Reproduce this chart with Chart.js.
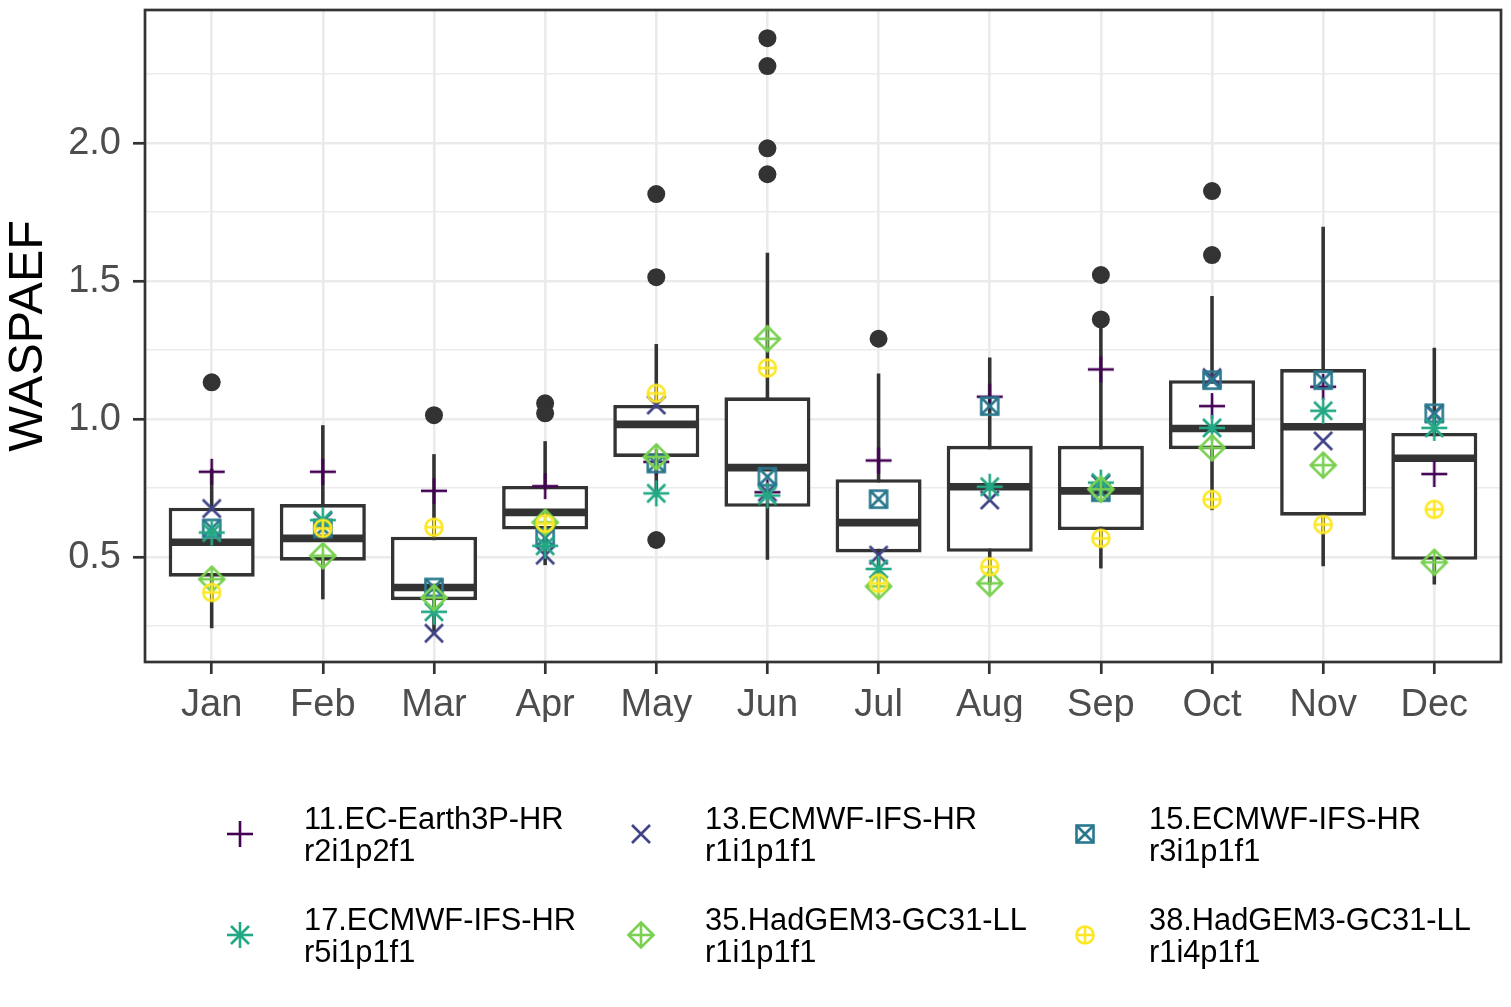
<!DOCTYPE html>
<html>
<head>
<meta charset="utf-8">
<script src="https://cdn.jsdelivr.net/npm/chart.js@4.4.1/dist/chart.umd.min.js"></script>
<style>
    body { margin: 0; background: #fff; overflow: hidden; }
    #wrap { position: relative; width: 1511px; height: 1007px; }
    .leg-item { position: absolute; font-family: 'Liberation Sans', Arial, sans-serif; font-size: 30.8px; line-height: 31.5px; color: #000; white-space: nowrap; }
    .leg-marker { position: absolute; }
</style>
</head>
<body>
<div id="wrap">
    <canvas id="chart" width="1511" height="1007"></canvas>
</div>
<script>
const months = ['Jan', 'Feb', 'Mar', 'Apr', 'May', 'Jun', 'Jul', 'Aug', 'Sep', 'Oct', 'Nov', 'Dec'];

// boxplot stats per month
const whiskerLow  = [0.242, 0.347, 0.224, 0.471, 0.72, 0.490, 0.39, 0.40, 0.459, 0.670, 0.467, 0.401];
const boxQ1       = [0.429, 0.487, 0.344, 0.600, 0.863, 0.682, 0.517, 0.519, 0.598, 0.891, 0.650, 0.490];
const boxMedian   = [0.554, 0.568, 0.390, 0.662, 0.981, 0.824, 0.625, 0.755, 0.740, 0.966, 0.972, 0.858];
const boxQ3       = [0.679, 0.692, 0.574, 0.758, 1.051, 1.079, 0.782, 0.903, 0.903, 1.141, 1.181, 0.950];
const whiskerHigh = [0.82, 0.978, 0.873, 0.920, 1.272, 1.603, 1.165, 1.223, 1.34, 1.446, 1.697, 1.258];

// outliers (month index, value)
const outlierMonth = [0, 2, 3, 3, 4, 4, 4, 5, 5, 5, 5, 6, 8, 8, 9, 9];
const outlierValue = [1.133, 1.014, 1.057, 1.021, 1.815, 1.514, 0.562, 2.380, 2.279, 1.981, 1.887, 1.291, 1.522, 1.361, 1.826, 1.594];

// model members
const modelNames   = ['11.EC-Earth3P-HR', '13.ECMWF-IFS-HR', '15.ECMWF-IFS-HR', '17.ECMWF-IFS-HR', '35.HadGEM3-GC31-LL', '38.HadGEM3-GC31-LL'];
const modelMembers = ['r2i1p2f1', 'r1i1p1f1', 'r3i1p1f1', 'r5i1p1f1', 'r1i1p1f1', 'r1i4p1f1'];
const m11 = [0.809, 0.809, 0.740, 0.757, 0.845, 0.735, 0.850, 1.081, 1.180, 1.047, 1.117, 0.801];
const m13 = [0.676, 0.630, 0.224, 0.507, 1.051, 0.735, 0.507, 0.707, 0.765, 1.150, 0.921, 1.020];
const m15 = [0.604, 0.604, 0.390, 0.570, 0.839, 0.791, 0.710, 1.047, 0.735, 1.141, 1.141, 1.021];
const m17 = [0.589, 0.634, 0.302, 0.541, 0.731, 0.723, 0.457, 0.755, 0.770, 0.968, 1.030, 0.968];
const m35 = [0.420, 0.505, 0.353, 0.626, 0.863, 1.291, 0.394, 0.405, 0.746, 0.896, 0.833, 0.481];
const m38 = [0.372, 0.604, 0.608, 0.622, 1.093, 1.185, 0.405, 0.465, 0.568, 0.709, 0.618, 0.673];

const majorTicks = [0.5, 1.0, 1.5, 2.0];
const minorTicks = [0.25, 0.75, 1.25, 1.75, 2.25];

const modelValues = [m11, m13, m15, m17, m35, m38];
const modelColors = ['#440154', '#414487', '#2A788E', '#22A884', '#7AD151', '#FDE725'];
const modelShapes = ['plus', 'cross', 'boxcross', 'asterisk', 'diamondplus', 'circleplus'];

const FONT = "'Liberation Sans', Arial, sans-serif";

function makeMarker(shape, color) {
    const c = document.createElement('canvas');
    c.width = 32;
    c.height = 32;
    const g = c.getContext('2d');
    g.translate(16, 16);
    g.strokeStyle = color;
    g.lineWidth = 2.6;
    g.lineCap = 'butt';
    const line = (x1, y1, x2, y2) => { g.beginPath(); g.moveTo(x1, y1); g.lineTo(x2, y2); g.stroke(); };
    const plus = (r) => { line(-r, 0, r, 0); line(0, -r, 0, r); };
    const cross = (r) => { line(-r, -r, r, r); line(-r, r, r, -r); };
    if (shape === 'plus') plus(13);
    if (shape === 'cross') cross(9);
    if (shape === 'boxcross') { g.strokeRect(-8.5, -8.5, 17, 17); cross(8.5); }
    if (shape === 'asterisk') { plus(13); cross(9); }
    if (shape === 'diamondplus') {
        g.beginPath();
        g.moveTo(0, -12.5); g.lineTo(12.5, 0); g.lineTo(0, 12.5); g.lineTo(-12.5, 0); g.closePath();
        g.stroke();
        plus(12.5);
    }
    if (shape === 'circleplus') {
        g.beginPath(); g.arc(0, 0, 8.5, 0, Math.PI * 2); g.stroke();
        plus(8.5);
    }
    return c;
}

const panelBorder = {
    id: 'panelBorder',
    afterDatasetsDraw(chart) {
        const a = chart.chartArea;
        const ctx = chart.ctx;
        ctx.save();
        ctx.strokeStyle = '#333333';
        ctx.lineWidth = 2.7;
        ctx.strokeRect(a.left, a.top, a.right - a.left, a.bottom - a.top);
        ctx.restore();
    }
};

const datasets = [
    {
        type: 'bar',
        data: months.map((m, i) => ({ x: i, y: [whiskerLow[i], whiskerHigh[i]] })),
        backgroundColor: '#333333',
        borderWidth: 0,
        grouped: false,
        categoryPercentage: 1,
        barPercentage: 0.032,
        order: 20
    },
    {
        type: 'bar',
        data: months.map((m, i) => ({ x: i, y: [boxQ1[i], boxQ3[i]] })),
        backgroundColor: '#FFFFFF',
        borderColor: '#333333',
        borderWidth: 3.6,
        borderSkipped: false,
        grouped: false,
        categoryPercentage: 1,
        barPercentage: 0.774,
        order: 19
    },
    {
        type: 'scatter',
        data: months.map((m, i) => ({ x: i, y: boxMedian[i] })),
        pointStyle: 'line',
        pointRadius: 41.5,
        pointBorderColor: '#333333',
        pointBorderWidth: 7.6,
        order: 18
    },
    {
        type: 'scatter',
        data: outlierMonth.map((m, i) => ({ x: m, y: outlierValue[i] })),
        pointRadius: 9,
        pointBackgroundColor: '#333333',
        pointBorderWidth: 0,
        order: 17
    }
];

modelValues.forEach((vals, k) => {
    datasets.push({
        type: 'scatter',
        label: modelNames[k],
        data: vals.map((v, i) => ({ x: i, y: v })),
        pointStyle: makeMarker(modelShapes[k], modelColors[k]),
        pointRadius: 14,
        order: 6 - k
    });
});

new Chart(document.getElementById('chart'), {
    type: 'bar',
    data: { datasets: datasets },
    plugins: [panelBorder],
    options: {
        responsive: false,
        animation: false,
        events: [],
        devicePixelRatio: 1,
        layout: { autoPadding: false, padding: { left: 0, top: 10, right: 10, bottom: 285 } },
        plugins: {
            legend: { display: false },
            tooltip: { enabled: false }
        },
        scales: {
            x: {
                type: 'linear',
                min: -0.6,
                max: 11.6,
                offset: false,
                afterFit: (s) => {
                    s.height = 60;
                    s.paddingLeft = 0;
                    s.paddingRight = 0;
                },
                afterBuildTicks: (s) => { s.ticks = months.map((m, i) => ({ value: i })); },
                ticks: {
                    callback: (v) => months[v],
                    color: '#4D4D4D',
                    font: { family: FONT, size: 38 },
                    padding: 9,
                    autoSkip: false,
                    maxRotation: 0
                },
                grid: {
                    offset: false,
                    color: '#EBEBEB',
                    lineWidth: 2.6,
                    tickLength: 12,
                    tickColor: '#333333',
                    tickWidth: 2.7
                },
                border: { display: false }
            },
            y: {
                min: 0.12,
                max: 2.482,
                beginAtZero: false,
                afterFit: (s) => {
                    s.width = 145;
                    s.paddingTop = 0;
                    s.paddingBottom = 0;
                },
                afterBuildTicks: (s) => {
                    s.ticks = majorTicks.concat(minorTicks).sort((a, b) => a - b).map(v => ({ value: v }));
                },
                ticks: {
                    callback: (v) => majorTicks.includes(v) ? v.toFixed(1) : '',
                    color: '#4D4D4D',
                    font: { family: FONT, size: 38 },
                    padding: 12
                },
                grid: {
                    color: '#EBEBEB',
                    lineWidth: (c) => majorTicks.includes(c.tick.value) ? 2.6 : 1.4,
                    tickLength: 12,
                    tickColor: (c) => majorTicks.includes(c.tick.value) ? '#333333' : 'rgba(0,0,0,0)',
                    tickWidth: 2.7
                },
                border: { display: false },
                title: {
                    display: true,
                    text: 'WASPAEF',
                    color: '#000000',
                    font: { family: FONT, size: 48.5 },
                    padding: { top: 0, bottom: 0 }
                }
            }
        }
    }
});

// legend, 3 columns x 2 rows
const legendCols = [[240, 304], [641, 705], [1085, 1149]];
const legendRows = [[834, 803], [935, 904]];
const wrap = document.getElementById('wrap');
modelNames.forEach((name, k) => {
    const col = legendCols[k % 3];
    const row = legendRows[Math.floor(k / 3)];
    const mk = makeMarker(modelShapes[k], modelColors[k]);
    mk.className = 'leg-marker';
    mk.style.left = (col[0] - 16) + 'px';
    mk.style.top = (row[0] - 16) + 'px';
    wrap.appendChild(mk);
    const txt = document.createElement('div');
    txt.className = 'leg-item';
    txt.style.left = col[1] + 'px';
    txt.style.top = row[1] + 'px';
    txt.innerHTML = name + '<br>' + modelMembers[k];
    wrap.appendChild(txt);
});
</script>
</body>
</html>
